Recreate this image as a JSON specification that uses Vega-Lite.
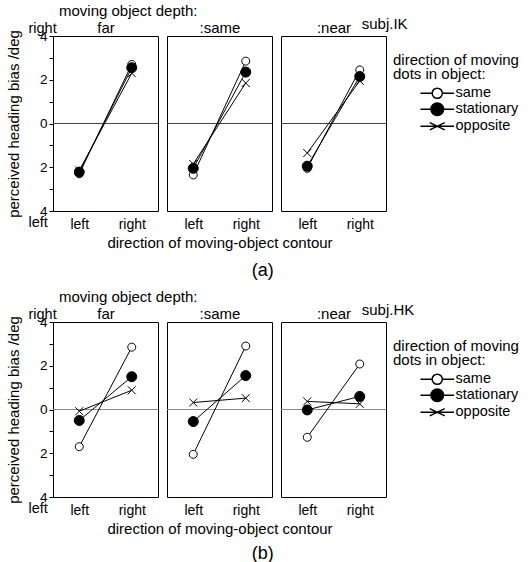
{
  "$schema": "https://vega.github.io/schema/vega-lite/v6.json",
  "padding": {"left": 5, "top": 3, "right": 5, "bottom": 0},
  "background": "white",
  "config": {
    "font": "Liberation Sans",
    "view": {"stroke": "black", "strokeWidth": 1},
    "title": {"fontSize": 15, "fontWeight": "normal", "color": "black", "offset": 3},
    "axis": {"labelFontSize": 14, "titleFontSize": 15, "titleFontWeight": "normal", "labelColor": "black", "titleColor": "black", "tickColor": "black", "grid": false, "domain": false},
    "legend": {"labelFontSize": 14.5, "titleFontSize": 15, "titleFontWeight": "normal", "labelColor": "black", "titleColor": "black"},
    "point": {"size": 100}
  },
  "datasets": {
    "ik": [
      {"depth": "far", "cond": "same", "contour": "left", "bias": -2.3},
      {"depth": "far", "cond": "same", "contour": "right", "bias": 2.7},
      {"depth": "far", "cond": "stationary", "contour": "left", "bias": -2.22},
      {"depth": "far", "cond": "stationary", "contour": "right", "bias": 2.55},
      {"depth": "far", "cond": "opposite", "contour": "left", "bias": -2.15},
      {"depth": "far", "cond": "opposite", "contour": "right", "bias": 2.3},
      {"depth": "same", "cond": "same", "contour": "left", "bias": -2.35},
      {"depth": "same", "cond": "same", "contour": "right", "bias": 2.85},
      {"depth": "same", "cond": "stationary", "contour": "left", "bias": -2.05},
      {"depth": "same", "cond": "stationary", "contour": "right", "bias": 2.35},
      {"depth": "same", "cond": "opposite", "contour": "left", "bias": -1.85},
      {"depth": "same", "cond": "opposite", "contour": "right", "bias": 1.85},
      {"depth": "near", "cond": "same", "contour": "left", "bias": -2.05},
      {"depth": "near", "cond": "same", "contour": "right", "bias": 2.45},
      {"depth": "near", "cond": "stationary", "contour": "left", "bias": -1.95},
      {"depth": "near", "cond": "stationary", "contour": "right", "bias": 2.15},
      {"depth": "near", "cond": "opposite", "contour": "left", "bias": -1.35},
      {"depth": "near", "cond": "opposite", "contour": "right", "bias": 1.95}
    ],
    "hk": [
      {"depth": "far", "cond": "same", "contour": "left", "bias": -1.7},
      {"depth": "far", "cond": "same", "contour": "right", "bias": 2.85},
      {"depth": "far", "cond": "stationary", "contour": "left", "bias": -0.5},
      {"depth": "far", "cond": "stationary", "contour": "right", "bias": 1.5},
      {"depth": "far", "cond": "opposite", "contour": "left", "bias": -0.08},
      {"depth": "far", "cond": "opposite", "contour": "right", "bias": 0.88},
      {"depth": "same", "cond": "same", "contour": "left", "bias": -2.05},
      {"depth": "same", "cond": "same", "contour": "right", "bias": 2.9},
      {"depth": "same", "cond": "stationary", "contour": "left", "bias": -0.55},
      {"depth": "same", "cond": "stationary", "contour": "right", "bias": 1.55},
      {"depth": "same", "cond": "opposite", "contour": "left", "bias": 0.32},
      {"depth": "same", "cond": "opposite", "contour": "right", "bias": 0.52},
      {"depth": "near", "cond": "same", "contour": "left", "bias": -1.27},
      {"depth": "near", "cond": "same", "contour": "right", "bias": 2.08},
      {"depth": "near", "cond": "stationary", "contour": "left", "bias": -0.02},
      {"depth": "near", "cond": "stationary", "contour": "right", "bias": 0.6},
      {"depth": "near", "cond": "opposite", "contour": "left", "bias": 0.37},
      {"depth": "near", "cond": "opposite", "contour": "right", "bias": 0.26}
    ]
  },
  "resolve": {"scale": {"shape": "independent", "fill": "independent", "stroke": "independent"}},
  "spacing": 9,
  "vconcat": [
    {
      "title": {"text": "(a)", "orient": "bottom", "fontSize": 18, "offset": 11, "anchor": "middle"},
      "resolve": {"scale": {"shape": "independent", "fill": "independent", "stroke": "independent"}},
      "vconcat": [
        {
          "title": {"text": "moving object depth:", "anchor": "start", "dx": 53, "offset": -2},
          "resolve": {"scale": {"shape": "independent", "fill": "independent", "stroke": "independent"}},
          "spacing": 9,
          "bounds": "flush",
          "hconcat": [
            {
              "width": 105, "height": 175,
              "data": {"name": "ik"},
              "transform": [{"filter": "datum.depth === 'far'"}],
              "resolve": {"axis": {"y": "independent", "x": "independent"}},
              "layer": [
                {"mark": {"type": "rule", "color": "#444", "strokeWidth": 1}, "encoding": {"y": {"datum": 0, "type": "quantitative", "scale": {"domain": [-4, 4], "nice": false, "zero": false}, "axis": null}}},
                {"mark": {"type": "line", "color": "black", "strokeWidth": 1},
                 "encoding": {
                   "x": {"field": "contour", "type": "nominal", "scale": {"domain": ["left", "right"], "padding": 0.5}, "axis": {"orient": "top", "title": "far", "labels": false, "ticks": false, "titlePadding": 1}},
                   "y": {"field": "bias", "type": "quantitative", "scale": {"domain": [-4, 4], "nice": false, "zero": false},
                         "axis": {"orient": "left", "values": [4, -4], "labelExpr": "datum.value > 0 ? 'right' : 'left'", "ticks": false, "title": null, "labelAlign": "left", "labelPadding": 25, "labelFontSize": 14.5, "labelOffset": {"condition": {"test": "datum.value > 0", "value": -8}, "value": 11}}},
                   "detail": {"field": "cond"}}},
                {"mark": {"type": "point", "filled": true, "stroke": "black", "strokeWidth": 1, "opacity": 1},
                 "encoding": {
                   "x": {"field": "contour", "type": "nominal", "scale": {"domain": ["left", "right"], "padding": 0.5}, "axis": {"orient": "bottom", "labelAngle": 0, "ticks": false, "labelPadding": 6, "title": null}},
                   "y": {"field": "bias", "type": "quantitative", "scale": {"domain": [-4, 4], "nice": false, "zero": false},
                         "axis": {"orient": "left", "values": [-4, -3, -2, -1, 0, 1, 2, 3, 4], "labelExpr": "datum.value % 2 === 0 ? format(abs(datum.value), 'd') : ''", "tickSize": 4, "labelPadding": 2, "labelFontSize": 13.5, "title": "perceived heading bias /deg", "titlePadding": 18}},
                   "shape": {"field": "cond", "type": "nominal", "scale": {"domain": ["same", "stationary", "opposite"], "range": ["M0.8,0A0.8,0.8 0 1,1 -0.8,0A0.8,0.8 0 1,1 0.8,0", "M1,0A1,1 0 1,1 -1,0A1,1 0 1,1 1,0", "M-0.8,-0.8L0.8,0.8M-0.8,0.8L0.8,-0.8"]}, "legend": null},
                   "fill": {"field": "cond", "type": "nominal", "scale": {"domain": ["same", "stationary", "opposite"], "range": ["white", "black", "transparent"]}, "legend": null}}}
              ]
            },
            {
              "width": 105, "height": 175,
              "data": {"name": "ik"},
              "transform": [{"filter": "datum.depth === 'same'"}],
              "resolve": {"axis": {"x": "independent"}},
              "layer": [
                {"mark": {"type": "rule", "color": "#444", "strokeWidth": 1}, "encoding": {"y": {"datum": 0, "type": "quantitative", "scale": {"domain": [-4, 4], "nice": false, "zero": false}, "axis": null}}},
                {"mark": {"type": "line", "color": "black", "strokeWidth": 1},
                 "encoding": {
                   "x": {"field": "contour", "type": "nominal", "scale": {"domain": ["left", "right"], "padding": 0.5}, "axis": {"orient": "top", "title": ":same", "labels": false, "ticks": false, "titlePadding": 1}},
                   "y": {"field": "bias", "type": "quantitative", "scale": {"domain": [-4, 4], "nice": false, "zero": false}, "axis": null},
                   "detail": {"field": "cond"}}},
                {"mark": {"type": "point", "filled": true, "stroke": "black", "strokeWidth": 1, "opacity": 1},
                 "encoding": {
                   "x": {"field": "contour", "type": "nominal", "scale": {"domain": ["left", "right"], "padding": 0.5}, "axis": {"orient": "bottom", "labelAngle": 0, "ticks": false, "labelPadding": 6, "title": "direction of moving-object contour", "titlePadding": 4}},
                   "y": {"field": "bias", "type": "quantitative", "scale": {"domain": [-4, 4], "nice": false, "zero": false},
                         "axis": {"values": [-4, -3, -2, -1, 0, 1, 2, 3, 4], "labels": false, "tickSize": 4, "title": null}},
                   "shape": {"field": "cond", "type": "nominal", "scale": {"domain": ["same", "stationary", "opposite"], "range": ["M0.8,0A0.8,0.8 0 1,1 -0.8,0A0.8,0.8 0 1,1 0.8,0", "M1,0A1,1 0 1,1 -1,0A1,1 0 1,1 1,0", "M-0.8,-0.8L0.8,0.8M-0.8,0.8L0.8,-0.8"]}, "legend": null},
                   "fill": {"field": "cond", "type": "nominal", "scale": {"domain": ["same", "stationary", "opposite"], "range": ["white", "black", "transparent"]}, "legend": null}}}
              ]
            },
            {
              "width": 105, "height": 175,
              "data": {"name": "ik"},
              "transform": [{"filter": "datum.depth === 'near'"}],
              "resolve": {"axis": {"x": "independent"}, "scale": {"shape": "independent", "fill": "independent", "stroke": "independent"}},
              "layer": [
                {"mark": {"type": "rule", "color": "#444", "strokeWidth": 1}, "encoding": {"y": {"datum": 0, "type": "quantitative", "scale": {"domain": [-4, 4], "nice": false, "zero": false}, "axis": null}}},
                {"mark": {"type": "line", "color": "black", "strokeWidth": 1},
                 "encoding": {
                   "x": {"field": "contour", "type": "nominal", "scale": {"domain": ["left", "right"], "padding": 0.5}, "axis": {"orient": "top", "title": ":near", "labels": false, "ticks": false, "titlePadding": 1}},
                   "y": {"field": "bias", "type": "quantitative", "scale": {"domain": [-4, 4], "nice": false, "zero": false}, "axis": null},
                   "detail": {"field": "cond"}}},
                {"mark": {"type": "point", "filled": true, "stroke": "black", "strokeWidth": 1, "opacity": 1},
                 "encoding": {
                   "x": {"field": "contour", "type": "nominal", "scale": {"domain": ["left", "right"], "padding": 0.5}, "axis": {"orient": "bottom", "labelAngle": 0, "ticks": false, "labelPadding": 6, "title": null}},
                   "y": {"field": "bias", "type": "quantitative", "scale": {"domain": [-4, 4], "nice": false, "zero": false},
                         "axis": {"values": [-4, -3, -2, -1, 0, 1, 2, 3, 4], "labels": false, "tickSize": 4, "title": null}},
                   "shape": {"field": "cond", "type": "nominal", "scale": {"domain": ["same", "stationary", "opposite"], "range": ["M0.8,0A0.8,0.8 0 1,1 -0.8,0A0.8,0.8 0 1,1 0.8,0", "M1,0A1,1 0 1,1 -1,0A1,1 0 1,1 1,0", "M-0.8,-0.8L0.8,0.8M-0.8,0.8L0.8,-0.8"]}, "legend": null},
                   "fill": {"field": "cond", "type": "nominal", "scale": {"domain": ["same", "stationary", "opposite"], "range": ["white", "black", "transparent"]}, "legend": null}}},
                {"transform": [{"filter": "false"}],
                 "mark": {"type": "point", "filled": false, "color": "black", "stroke": "black", "strokeWidth": 1, "opacity": 1, "size": 144},
                 "encoding": {
                   "x": {"field": "contour", "type": "nominal", "scale": {"domain": ["left", "right"], "padding": 0.5}, "axis": null},
                   "y": {"field": "bias", "type": "quantitative", "scale": {"domain": [-4, 4], "nice": false, "zero": false}, "axis": null},
                   "shape": {"field": "cond", "type": "nominal", "scale": {"domain": ["same", "stationary", "opposite"], "range": ["M-2.8,0H-0.85M0.85,0H2.8M0.85,0A0.85,0.85 0 1,1 -0.85,0A0.85,0.85 0 1,1 0.85,0", "M-2.8,0H2.8M1.05,0A1.05,1.05 0 1,1 -1.05,0A1.05,1.05 0 1,1 1.05,0", "M-2.8,0H2.8M-1.25,-0.6L1.25,0.6M-1.25,0.6L1.25,-0.6"]},
                             "legend": {"orient": "none", "legendX": 112, "legendY": 17, "title": ["direction of moving", "dots in object:"], "titleLineHeight": 14, "titlePadding": 4, "symbolSize": 144, "symbolOffset": 37, "labelOffset": 11, "rowPadding": -9}},
                   "fill": {"field": "cond", "type": "nominal", "scale": {"domain": ["same", "stationary", "opposite"], "range": ["transparent", "black", "transparent"]},
                            "legend": {"orient": "none", "legendX": 112, "legendY": 17, "title": ["direction of moving", "dots in object:"], "titleLineHeight": 14, "titlePadding": 4, "symbolSize": 144, "symbolOffset": 37, "labelOffset": 11, "rowPadding": -9}},
                   "stroke": {"field": "cond", "type": "nominal", "scale": {"domain": ["same", "stationary", "opposite"], "range": ["black", "black", "black"]},
                            "legend": {"orient": "none", "legendX": 112, "legendY": 17, "title": ["direction of moving", "dots in object:"], "titleLineHeight": 14, "titlePadding": 4, "symbolSize": 144, "symbolOffset": 37, "labelOffset": 11, "rowPadding": -9}}}},
                {"data": {"values": [{"t": "subj.IK"}]},
                 "mark": {"type": "text", "align": "left", "baseline": "middle", "dx": 2, "dy": -12, "fontSize": 15, "color": "black"},
                 "encoding": {
                   "x": {"datum": "right", "type": "nominal", "scale": {"domain": ["left", "right"], "padding": 0.5}, "axis": null},
                   "y": {"datum": 4, "type": "quantitative", "scale": {"domain": [-4, 4], "nice": false, "zero": false}, "axis": null},
                   "text": {"field": "t"}}}
              ]
            }
          ]
        }
      ]
    },
    {
      "title": {"text": "(b)", "orient": "bottom", "fontSize": 18, "offset": 8, "anchor": "middle"},
      "resolve": {"scale": {"shape": "independent", "fill": "independent", "stroke": "independent"}},
      "vconcat": [
        {
          "title": {"text": "moving object depth:", "anchor": "start", "dx": 53, "offset": -2},
          "resolve": {"scale": {"shape": "independent", "fill": "independent", "stroke": "independent"}},
          "spacing": 9,
          "bounds": "flush",
          "hconcat": [
            {
              "width": 105, "height": 175,
              "data": {"name": "hk"},
              "transform": [{"filter": "datum.depth === 'far'"}],
              "resolve": {"axis": {"y": "independent", "x": "independent"}},
              "layer": [
                {"mark": {"type": "rule", "color": "#888", "strokeWidth": 1}, "encoding": {"y": {"datum": 0, "type": "quantitative", "scale": {"domain": [-4, 4], "nice": false, "zero": false}, "axis": null}}},
                {"mark": {"type": "line", "color": "black", "strokeWidth": 1},
                 "encoding": {
                   "x": {"field": "contour", "type": "nominal", "scale": {"domain": ["left", "right"], "padding": 0.5}, "axis": {"orient": "top", "title": "far", "labels": false, "ticks": false, "titlePadding": 1}},
                   "y": {"field": "bias", "type": "quantitative", "scale": {"domain": [-4, 4], "nice": false, "zero": false},
                         "axis": {"orient": "left", "values": [4, -4], "labelExpr": "datum.value > 0 ? 'right' : 'left'", "ticks": false, "title": null, "labelAlign": "left", "labelPadding": 25, "labelFontSize": 14.5, "labelOffset": {"condition": {"test": "datum.value > 0", "value": -8}, "value": 11}}},
                   "detail": {"field": "cond"}}},
                {"mark": {"type": "point", "filled": true, "stroke": "black", "strokeWidth": 1, "opacity": 1},
                 "encoding": {
                   "x": {"field": "contour", "type": "nominal", "scale": {"domain": ["left", "right"], "padding": 0.5}, "axis": {"orient": "bottom", "labelAngle": 0, "ticks": false, "labelPadding": 6, "title": null}},
                   "y": {"field": "bias", "type": "quantitative", "scale": {"domain": [-4, 4], "nice": false, "zero": false},
                         "axis": {"orient": "left", "values": [-4, -3, -2, -1, 0, 1, 2, 3, 4], "labelExpr": "datum.value % 2 === 0 ? format(abs(datum.value), 'd') : ''", "tickSize": 4, "labelPadding": 2, "labelFontSize": 13.5, "title": "perceived heading bias /deg", "titlePadding": 18}},
                   "shape": {"field": "cond", "type": "nominal", "scale": {"domain": ["same", "stationary", "opposite"], "range": ["M0.8,0A0.8,0.8 0 1,1 -0.8,0A0.8,0.8 0 1,1 0.8,0", "M1,0A1,1 0 1,1 -1,0A1,1 0 1,1 1,0", "M-0.8,-0.8L0.8,0.8M-0.8,0.8L0.8,-0.8"]}, "legend": null},
                   "fill": {"field": "cond", "type": "nominal", "scale": {"domain": ["same", "stationary", "opposite"], "range": ["white", "black", "transparent"]}, "legend": null}}}
              ]
            },
            {
              "width": 105, "height": 175,
              "data": {"name": "hk"},
              "transform": [{"filter": "datum.depth === 'same'"}],
              "resolve": {"axis": {"x": "independent"}},
              "layer": [
                {"mark": {"type": "rule", "color": "#888", "strokeWidth": 1}, "encoding": {"y": {"datum": 0, "type": "quantitative", "scale": {"domain": [-4, 4], "nice": false, "zero": false}, "axis": null}}},
                {"mark": {"type": "line", "color": "black", "strokeWidth": 1},
                 "encoding": {
                   "x": {"field": "contour", "type": "nominal", "scale": {"domain": ["left", "right"], "padding": 0.5}, "axis": {"orient": "top", "title": ":same", "labels": false, "ticks": false, "titlePadding": 1}},
                   "y": {"field": "bias", "type": "quantitative", "scale": {"domain": [-4, 4], "nice": false, "zero": false}, "axis": null},
                   "detail": {"field": "cond"}}},
                {"mark": {"type": "point", "filled": true, "stroke": "black", "strokeWidth": 1, "opacity": 1},
                 "encoding": {
                   "x": {"field": "contour", "type": "nominal", "scale": {"domain": ["left", "right"], "padding": 0.5}, "axis": {"orient": "bottom", "labelAngle": 0, "ticks": false, "labelPadding": 6, "title": "direction of moving-object contour", "titlePadding": 4}},
                   "y": {"field": "bias", "type": "quantitative", "scale": {"domain": [-4, 4], "nice": false, "zero": false},
                         "axis": {"values": [-4, -3, -2, -1, 0, 1, 2, 3, 4], "labels": false, "tickSize": 4, "title": null}},
                   "shape": {"field": "cond", "type": "nominal", "scale": {"domain": ["same", "stationary", "opposite"], "range": ["M0.8,0A0.8,0.8 0 1,1 -0.8,0A0.8,0.8 0 1,1 0.8,0", "M1,0A1,1 0 1,1 -1,0A1,1 0 1,1 1,0", "M-0.8,-0.8L0.8,0.8M-0.8,0.8L0.8,-0.8"]}, "legend": null},
                   "fill": {"field": "cond", "type": "nominal", "scale": {"domain": ["same", "stationary", "opposite"], "range": ["white", "black", "transparent"]}, "legend": null}}}
              ]
            },
            {
              "width": 105, "height": 175,
              "data": {"name": "hk"},
              "transform": [{"filter": "datum.depth === 'near'"}],
              "resolve": {"axis": {"x": "independent"}, "scale": {"shape": "independent", "fill": "independent", "stroke": "independent"}},
              "layer": [
                {"mark": {"type": "rule", "color": "#888", "strokeWidth": 1}, "encoding": {"y": {"datum": 0, "type": "quantitative", "scale": {"domain": [-4, 4], "nice": false, "zero": false}, "axis": null}}},
                {"mark": {"type": "line", "color": "black", "strokeWidth": 1},
                 "encoding": {
                   "x": {"field": "contour", "type": "nominal", "scale": {"domain": ["left", "right"], "padding": 0.5}, "axis": {"orient": "top", "title": ":near", "labels": false, "ticks": false, "titlePadding": 1}},
                   "y": {"field": "bias", "type": "quantitative", "scale": {"domain": [-4, 4], "nice": false, "zero": false}, "axis": null},
                   "detail": {"field": "cond"}}},
                {"mark": {"type": "point", "filled": true, "stroke": "black", "strokeWidth": 1, "opacity": 1},
                 "encoding": {
                   "x": {"field": "contour", "type": "nominal", "scale": {"domain": ["left", "right"], "padding": 0.5}, "axis": {"orient": "bottom", "labelAngle": 0, "ticks": false, "labelPadding": 6, "title": null}},
                   "y": {"field": "bias", "type": "quantitative", "scale": {"domain": [-4, 4], "nice": false, "zero": false},
                         "axis": {"values": [-4, -3, -2, -1, 0, 1, 2, 3, 4], "labels": false, "tickSize": 4, "title": null}},
                   "shape": {"field": "cond", "type": "nominal", "scale": {"domain": ["same", "stationary", "opposite"], "range": ["M0.8,0A0.8,0.8 0 1,1 -0.8,0A0.8,0.8 0 1,1 0.8,0", "M1,0A1,1 0 1,1 -1,0A1,1 0 1,1 1,0", "M-0.8,-0.8L0.8,0.8M-0.8,0.8L0.8,-0.8"]}, "legend": null},
                   "fill": {"field": "cond", "type": "nominal", "scale": {"domain": ["same", "stationary", "opposite"], "range": ["white", "black", "transparent"]}, "legend": null}}},
                {"transform": [{"filter": "false"}],
                 "mark": {"type": "point", "filled": false, "color": "black", "stroke": "black", "strokeWidth": 1, "opacity": 1, "size": 144},
                 "encoding": {
                   "x": {"field": "contour", "type": "nominal", "scale": {"domain": ["left", "right"], "padding": 0.5}, "axis": null},
                   "y": {"field": "bias", "type": "quantitative", "scale": {"domain": [-4, 4], "nice": false, "zero": false}, "axis": null},
                   "shape": {"field": "cond", "type": "nominal", "scale": {"domain": ["same", "stationary", "opposite"], "range": ["M-2.8,0H-0.85M0.85,0H2.8M0.85,0A0.85,0.85 0 1,1 -0.85,0A0.85,0.85 0 1,1 0.85,0", "M-2.8,0H2.8M1.05,0A1.05,1.05 0 1,1 -1.05,0A1.05,1.05 0 1,1 1.05,0", "M-2.8,0H2.8M-1.25,-0.6L1.25,0.6M-1.25,0.6L1.25,-0.6"]},
                             "legend": {"orient": "none", "legendX": 112, "legendY": 17, "title": ["direction of moving", "dots in object:"], "titleLineHeight": 14, "titlePadding": 4, "symbolSize": 144, "symbolOffset": 37, "labelOffset": 11, "rowPadding": -9}},
                   "fill": {"field": "cond", "type": "nominal", "scale": {"domain": ["same", "stationary", "opposite"], "range": ["transparent", "black", "transparent"]},
                            "legend": {"orient": "none", "legendX": 112, "legendY": 17, "title": ["direction of moving", "dots in object:"], "titleLineHeight": 14, "titlePadding": 4, "symbolSize": 144, "symbolOffset": 37, "labelOffset": 11, "rowPadding": -9}},
                   "stroke": {"field": "cond", "type": "nominal", "scale": {"domain": ["same", "stationary", "opposite"], "range": ["black", "black", "black"]},
                            "legend": {"orient": "none", "legendX": 112, "legendY": 17, "title": ["direction of moving", "dots in object:"], "titleLineHeight": 14, "titlePadding": 4, "symbolSize": 144, "symbolOffset": 37, "labelOffset": 11, "rowPadding": -9}}}},
                {"data": {"values": [{"t": "subj.HK"}]},
                 "mark": {"type": "text", "align": "left", "baseline": "middle", "dx": 2, "dy": -12, "fontSize": 15, "color": "black"},
                 "encoding": {
                   "x": {"datum": "right", "type": "nominal", "scale": {"domain": ["left", "right"], "padding": 0.5}, "axis": null},
                   "y": {"datum": 4, "type": "quantitative", "scale": {"domain": [-4, 4], "nice": false, "zero": false}, "axis": null},
                   "text": {"field": "t"}}}
              ]
            }
          ]
        }
      ]
    }
  ]
}
